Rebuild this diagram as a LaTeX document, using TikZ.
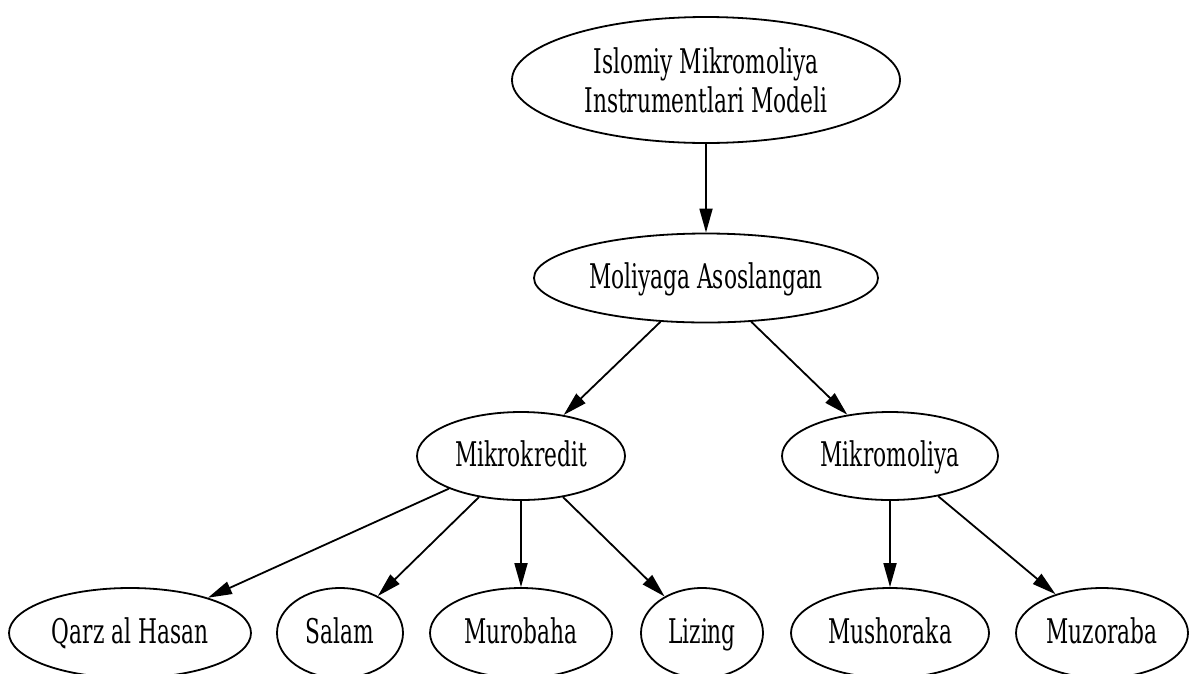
\documentclass[tikz,border=0pt]{standalone}
\usepackage{fontspec}
\setmainfont{DejaVu Serif Condensed}[FakeStretch=0.71]
\usetikzlibrary{shapes.geometric,arrows.meta}
\begin{document}
\begin{tikzpicture}[x=1pt,y=-1pt,
  elbase/.style={draw, ellipse, line width=1.8pt, inner sep=0pt, font=\fontsize{34}{39}\selectfont, align=center},
  el/.style={elbase, text height=30pt, text depth=10pt},
  arr/.style={-{Triangle[length=24pt,width=13pt]}, line width=1.8pt}]
\useasboundingbox (0,0) rectangle (1190,673);
\clip (0,0) rectangle (1190,673);
\node[elbase, minimum width=388pt, minimum height=126pt] (top) at (706,80) {Islomiy Mikromoliya\\Instrumentlari Modeli};
\node[el, minimum width=344pt, minimum height=89pt] (mol) at (706,278) {Moliyaga Asoslangan};
\node[el, minimum width=208pt, minimum height=88pt] (mkr) at (521,456) {Mikrokredit};
\node[el, minimum width=216pt, minimum height=88pt] (mkm) at (890,456) {Mikromoliya};
\node[el, minimum width=242pt, minimum height=90pt] (qarz) at (130,633) {Qarz al Hasan};
\node[el, minimum width=126pt, minimum height=90pt] (salam) at (340,633) {Salam};
\node[el, minimum width=182pt, minimum height=90pt] (murob) at (521,633) {Murobaha};
\node[el, minimum width=122pt, minimum height=90pt] (lizing) at (702,633) {Lizing};
\node[el, minimum width=198pt, minimum height=90pt] (mush) at (890,633) {Mushoraka};
\node[el, minimum width=172pt, minimum height=90pt] (muz) at (1102,633) {Muzoraba};
\draw[arr] (top) -- (mol);
\draw[arr] (mol) -- (mkr);
\draw[arr] (mol) -- (mkm);
\draw[arr] (mkr) -- (qarz);
\draw[arr] (mkr) -- (salam);
\draw[arr] (mkr) -- (murob);
\draw[arr] (mkr) -- (lizing);
\draw[arr] (mkm) -- (mush);
\draw[arr] (mkm) -- (muz);
\end{tikzpicture}
\end{document}
